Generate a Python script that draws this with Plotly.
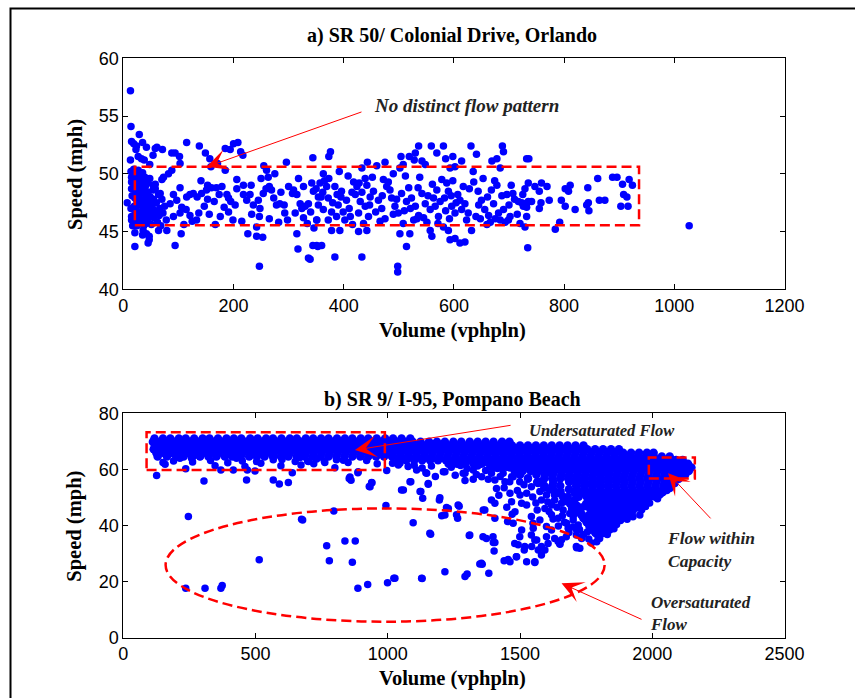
import plotly.graph_objects as go

# ---------------- Panel a: SR 50 / Colonial Drive (volume vphpln, speed mph) ----------------
a_points = [
    (13,57.2),(14,54.1),(15,52.8),(19,52.6),(24,52.4),(23,52.1),(29,53.4),(35,52.7),(42,52.3),(27,51.5),
    (33,51.3),(38,51.2),(13,51.2),(48,50.8),(58,52.2),(61,52.3),(71,52.1),(54,51.6),(88,51.8),(94,51.8),
    (102,51.5),(103,50.9),(115,52.7),(138,52.4),(149,51.8),(157,51.3),(159,50.6),(185,52.2),(194,52.1),
    (200,52.6),(208,52.7),(213,51.9),(217,51.6),(185,50.3),(171,50.9),
    (141,49.4),(153,49.0),(160,48.8),(206,49.5),(218,49.0),(232,49.0),(255,50.7),(260,50.3),(275,50.0),
    (250,49.6),(263,49.7),(296,51.0),(344,51.4),(342,49.2),
    (21,44.9),(21,43.7),(35,44.7),(36,45.1),(47,44.6),(45,44.0),(47,44.3),(94,43.8),(105,44.8),(133,46.0),
    (167,45.6),(226,44.8),(242,45.4),(242,44.6),(253,44.5),(247,42.0),(315,44.8),(317,43.5),(336,42.7),
    (339,42.6),(344,43.8),(351,43.8),(64,45.1),(79,45.1),(42,44.8),
    (7,47.5),(15,49.7),(15,48.7),(15,46.3),(54,49.0),(58,48.7),(67,48.3),(70,49.5),(73,49.7),(82,50.0),
    (88,50.3),(103,48.8),(91,48.2),(97,47.7),(85,47.4),(106,47.1),(115,48.0),(121,48.2),(127,48.3),
    (114,46.9),(121,46.4),(103,46.6),(91,46.3),(134,48.0),(142,48.3),(151,48.6),(153,47.8),(156,46.5),
    (169,48.8),(174,48.2),(179,48.9),(188,48.2),(191,47.9),(195,47.6),(203,47.3),(191,46.7),(176,46.3),
    (206,48.7),(218,48.2),(224,47.7),(230,48.2),(236,47.3),(245,47.7),(248,47.0),(247,46.3),(254,48.3),
    (259,48.7),(265,48.9),(269,48.6),(273,47.9),(278,47.3),(284,47.4),(292,47.3),(293,46.6),(265,46.1),
    (300,48.9),(309,48.6),(315,48.2),(307,48.3),(321,47.4),(324,47.0),(330,47.2),(336,47.4),(340,46.7),
    (334,45.7),(346,45.3),(351,46.0),(345,48.5),(354,48.0),
    (14,50.2),(15,49.3),(16,48.1),(14,47.0),(15,46.0),(17,45.5),(19,50.4),(20,49.6),(19,48.8),(21,47.9),
    (20,47.2),(19,46.4),(21,45.7),(23,50.0),(24,49.2),(23,48.4),(25,47.6),(24,46.8),(23,46.1),(25,45.5),
    (27,50.3),(28,49.5),(27,48.7),(29,47.9),(28,47.3),(27,46.5),(29,45.8),(31,49.9),(32,49.0),(31,48.3),
    (33,47.5),(32,46.7),(31,46.0),(35,50.1),(36,49.3),(35,48.5),(37,47.7),(36,46.9),(35,46.2),(37,45.5),
    (39,49.7),(40,48.9),(41,48.0),(40,47.2),(39,46.4),(41,45.7),(44,49.2),(45,48.4),(44,47.6),(46,46.8),
    (45,46.0),(48,49.6),(49,48.0),(50,47.3),(49,46.5),(51,45.6),(54,48.6),(55,47.8),(53,47.0),(56,46.2),
    (58,49.1),(60,47.5),(59,46.7),(62,45.8),(64,48.2),(66,47.0),(65,46.4),(70,47.8),(72,46.6),(68,45.5),
    (75,47.2),(78,46.0),
    (376,51.9),(373,51.5),(536,52.4),(559,52.4),(581,52.4),(631,52.4),(688,52.4),(530,51.8),(519,51.5),
    (504,51.5),(569,51.8),(585,51.3),(598,51.5),(641,51.7),(678,51.3),(669,51.1),(690,51.9),(614,51.1),
    (602,50.6),(593,50.5),(528,51.2),(542,51.1),(548,50.8),(443,51.0),(460,50.7),(475,51.0),(433,50.5),
    (392,50.2),(363,50.0),(373,49.6),(490,50.0),(502,50.5),(508,50.8),(635,50.2),(684,50.5),
    (357,49.2),(369,48.9),(359,48.0),(372,47.9),(354,47.3),(363,46.9),(351,46.0),(372,46.0),
    (384,48.9),(396,48.5),(405,47.7),(390,47.3),(399,46.7),(387,46.3),(402,46.0),(393,45.1),(378,45.1),
    (408,49.8),(418,49.3),(424,48.9),(439,49.6),(442,49.0),(421,48.2),(430,47.6),(439,47.2),(427,46.6),
    (445,46.3),(436,45.7),(442,45.1),(427,45.0),
    (454,48.5),(463,47.7),(469,47.0),(475,46.1),(481,49.3),(487,47.9),(493,47.2),(499,46.6),(502,44.8),
    (514,43.7),(520,44.8),(498,42.0),(498,41.5),
    (505,48.3),(514,47.6),(523,47.9),(530,47.2),(536,46.4),(527,46.0),(542,48.3),(548,47.4),(557,46.9),
    (563,47.9),(569,48.6),(572,46.3),(578,49.5),(587,49.2),(590,48.5),(581,45.4),(590,45.1),(560,44.6),
    (557,45.1),(596,47.2),(602,46.6),(611,47.7),(614,46.9),(623,46.0),(632,45.1),(593,44.3),(602,44.4),
    (611,44.0),(620,44.1),(644,48.5),(650,47.7),(656,46.9),(663,46.4),(672,47.4),(678,49.0),(681,46.6),
    (690,46.9),(696,48.2),(699,46.0),(684,46.0),(660,45.6),(384,42.8),(433,42.8),(360,43.8),(353,43.7),
    (380,47.5),(395,48.0),(410,47.0),(415,48.4),(433,48.4),(447,47.3),(458,46.7),(470,48.1),(478,48.9),
    (490,46.5),(510,46.8),(518,48.8),(535,48.8),(545,46.2),(553,48.1),(566,47.2),(575,47.6),(585,46.8),
    (595,48.1),(607,48.2),(620,47.4),(628,48.7),(640,46.3),(648,46.1),(668,48.6),(675,46.1),(700,47.3),
    (710,47.8),(362,48.4),(350,48.7),
    (318,49.6),(327,46.2),(365,49.4),(378,46.7),(388,48.2),(412,46.3),(416,45.6),(428,49.2),(448,48.0),
    (452,49.7),(466,45.9),(472,49.5),(484,48.6),(496,47.8),(508,45.7),(512,49.8),(521,47.0),(533,46.1),
    (538,49.7),(551,45.8),(561,49.1),(571,45.7),(583,47.9),(592,46.1),(598,49.4),(604,47.5),(617,48.9),
    (626,46.6),(636,49.3),(645,47.3),(653,49.6),(661,48.0),(666,45.8),(674,49.4),(687,48.1),(693,45.8),
    (704,49.0),(715,46.5),(286,48.4),(298,46.0),(282,45.8),(312,46.6),(327,48.9),(233,46.5),(215,45.9),
    (199,46.0),(183,47.1),(165,47.6),(147,47.2),(137,46.6),(125,45.9),(110,45.6),
    (732,51.3),(736,51.3),(707,48.3),(725,48.2),(729,48.7),(735,49.2),(747,48.9),(755,48.5),(759,49.2),
    (769,48.9),(717,47.6),(723,47.5),(729,47.4),(735,47.6),(741,47.6),(732,47.1),(726,47.2),(758,47.5),
    (755,47.0),(773,47.7),(795,47.7),(802,47.2),(820,46.9),(802,48.7),(808,48.5),(811,49.0),(843,48.8),
    (861,49.6),(841,47.3),(844,47.5),(845,46.8),(864,47.7),(874,47.7),(888,49.7),(896,49.7),(906,49.1),
    (918,49.5),(924,49.0),(908,48.2),(914,48.0),(903,47.2),(916,47.2),(732,46.3),(702,46.3),(720,45.7),
    (729,45.4),(792,45.8),(784,45.2),(734,43.6),(1027,45.5),
]
a_volume = [p[0] for p in a_points]
a_speed = [p[1] for p in a_points]

# ---------------- Panel b: SR 9 / I-95 (scattered points) ----------------
b_points = [
    (126,57.8),(158,61.8),(236,60.2),(305,55.9),(246,43.2),(236,17.6),(309,17.6),(369,17.6),(374,18.6),
    (514,27.8),(678,42.0),(796,45.2),(769,32.8),(779,27.4),(838,34.5),(877,34.5),(866,26.9),(887,17.6),
    (924,19.0),(999,19.6),(1023,21.2),(993,47.1),(347,61.3),(369,59.8),(416,59.8),(460,61.0),(469,59.8),
    (498,59.4),(466,56.2),(567,56.2),(590,54.8),(624,55.3),(639,58.8),(596,61.3),(672,61.6),(697,63.0),
    (762,62.5),(800,60.6),(857,57.3),(861,56.1),(887,58.8),(930,53.9),(940,55.2),(996,59.6),(1018,62.2),
    (428,64.0),(504,62.8),(567,63.4),(668,64.2),(731,63.7),(806,63.4),(258,64.0),(290,64.6),(214,64.0),
    (150,62.5),(190,63.0),(262,62.6),(330,63.2),(395,62.4),(450,63.0),(520,62.2),(600,63.5),(650,62.8),
    (720,62.0),(760,63.0),(850,62.5),(920,63.2),(960,62.0),
    (700,62.8),(832,63.3),(854,56.8),(888,59.2),(933,53.8),(939,55.3),(1046,62.2),(1059,52.7),(1084,55.6),
    (1077,61.0),(1109,59.8),(1122,52.1),(1132,49.7),(1144,58.8),(1153,55.0),(1195,49.1),(1210,59.2),
    (1229,46.1),(1204,43.5),(1216,43.7),(1270,46.9),(1264,42.6),(1292,56.0),(1323,56.5),(1285,58.6),
    (1323,59.8),(674,42.2),(1096,41.0),(1162,36.9),(1308,36.4),(1130,21.1),(1216,23.5),(1292,21.8),
    (1300,22.7),(1348,26.3),
    (1052,52.7),(1087,55.6),(1153,54.7),(1125,52.1),(1197,49.9),(1222,46.4),(1266,47.3),(1260,43.8),
    (1159,37.2),(1027,21.2),(1128,21.2),(1310,36.6),(1357,26.2),(1382,23.0),(1361,45.5),(1373,35.4),
    (1399,33.9),(1402,30.9),(1392,49.1),(1405,42.6),(1440,27.4),(1462,27.1),(1487,28.9),(1493,33.1),
    (1516,31.3),(1525,27.1),(1556,27.1),(1544,32.5),(1563,34.8),(1569,31.3),(1581,29.5),(1594,31.3),
    (1550,39.0),(1506,38.4),(1474,40.8),(1481,44.9),(1468,48.5),(1506,47.9),(1525,47.3),(1405,47.9),
    (1453,41.4),(1644,34.3),(1657,34.9),(1651,33.3),(1714,32.1),(1682,39.0),(1714,38.4),(1733,35.4),
    (1619,38.4),(1600,36.0),(1292,58.6),(1355,57.4),(1392,58.6),(1405,56.2),(1443,55.6),(1468,57.4),
    (1500,50.9),(1462,51.5),(1525,51.5),(1581,49.1),(1600,50.9),(1619,47.3),(1619,43.8),(1644,42.6),
    (1663,45.5),(1676,40.8),(1701,43.2),(1720,40.2),(1714,47.3),(1682,50.3),(1216,59.2),(1147,58.6),
    (1040,61.6),
    (1675,36.0),(1713,36.6),(1726,31.9),(1713,32.5),(1801,35.4),(1814,37.2),(1839,38.4),(1846,42.0),
    (1808,39.6),(1776,38.4),(1764,42.0),(1738,42.6),(1701,42.0),(1688,44.3),(1713,46.7),(1745,46.7),
    (1871,42.0),(1890,44.3),(1915,45.5),(1940,47.9),(1953,43.7),(1927,43.1),(1978,49.1),(2009,50.3),
    (2028,50.9),(2066,53.2),(2072,55.6),(2091,58.0),(2110,59.2),(1543,43.2),(1549,40.8),(1575,42.0),
    (1600,39.6),(1594,46.1),(1631,49.1),(1657,47.9),(1612,52.7),(1575,52.1),(1568,55.0),(1543,53.8),
    (1499,55.6),(1474,57.4),(1411,53.2),(1367,45.5),(1360,36.0),(1398,36.0),(1405,33.9),(1480,33.6),
    (1499,36.0),(1518,32.5),(1543,36.6),(1556,34.8),(1581,32.5),(1606,33.6),(1650,33.6),(1631,35.4),
    (1486,28.9),(1455,27.9),(1556,26.8),(1354,26.5),(1360,62.2),(1386,61.0),(1436,58.6),(1461,55.6),
    (1100,61.5),(1130,60.5),(1165,61.2),(1180,57.5),(1240,60.8),(1255,57.9),(1275,61.4),(1300,60.3),
    (1335,58.2),(1340,61.2),(1370,59.6),(1380,56.5),(1415,60.3),(1425,57.5),(1450,60.8),(1440,53.5),
    (1420,50.8),(1450,46.5),(1470,44.0),(1490,52.5),
    (1515,54.5),(1530,56.6),(1548,50.2),(1560,48.0),(1565,45.5),(1580,55.8),(1590,53.3),(1605,48.4),
    (1610,45.0),(1625,42.3),(1630,51.0),(1640,46.5),(1645,39.8),(1655,52.1),(1660,43.5),(1668,41.2),
    (1672,48.6),(1685,37.5),(1695,46.0),(1700,39.5),(1710,44.5),(1725,38.6),(1735,44.0),(1740,36.8),
    (1755,37.8),(1760,35.2),(1770,33.8),(1790,34.2),(1795,36.0),(1830,36.8),(1855,38.8),(1865,40.4),
    (1880,41.8),(1905,42.2),(1920,44.0),(1960,45.6),(1975,46.8),(1990,48.0),(2020,49.5),(2040,51.8),
    (2055,52.5),(2085,55.0),(2100,56.5),(2120,58.0),
]
b_volume = [p[0] for p in b_points]
b_speed = [p[1] for p in b_points]

# Panel b dense band, read row by row (speed of row, volumes along it)
band_speeds = [71.0, 69.8, 68.5, 67.2, 65.9, 64.6, 63.3, 62.0, 60.7, 59.4, 58.1, 56.8, 55.5, 54.2,
               52.9, 51.6, 50.3, 49.0, 47.7, 46.4, 45.1, 43.8, 42.5, 41.2, 39.9, 38.6, 37.3]
band_volume_rows = [
    [118,150,178,210,236,268,300,326,358,390,418,446,480,508,540,566,598,630,656,690,718,748,776,808,838,
     866,898,926,958,990,1020,1052,1085],
    [112,140,165,195,222,252,283,312,340,372,402,432,462,494,524,552,582,612,642,672,702,734,762,792,822,
     852,882,912,942,972,1002,1034,1064,1094,1124,1156,1186,1216,1248,1278,1310,1340,1370,1400,1432,1460],
    [120,152,180,208,240,270,298,330,360,388,420,450,478,510,540,568,600,628,660,690,720,750,780,810,840,
     870,900,930,960,990,1020,1050,1080,1110,1140,1170,1200,1230,1260,1290,1320,1350,1380,1410,1440,1470,
     1500,1530,1560,1590,1620,1650,1680,1710,1740],
    [115,140,168,196,226,256,286,314,344,374,404,434,464,494,524,554,584,614,644,674,704,734,764,794,824,
     854,884,914,944,974,1004,1034,1064,1094,1124,1154,1184,1214,1244,1274,1304,1334,1364,1394,1424,1454,
     1484,1514,1544,1574,1604,1634,1664,1694,1724,1754,1784,1814,1844,1874],
    [125,154,182,212,242,272,300,330,360,390,420,450,480,510,540,570,600,630,660,690,720,750,780,810,840,
     870,900,930,960,990,1020,1050,1080,1110,1140,1170,1200,1230,1260,1290,1320,1350,1380,1410,1440,1470,
     1500,1530,1560,1590,1620,1650,1680,1710,1740,1770,1800,1830,1860,1890,1920,1950,1980,2005],
    [130,165,200,228,262,290,322,352,384,412,444,476,505,534,566,596,624,656,686,716,746,776,806,836,866,
     896,926,956,986,1016,1046,1076,1106,1136,1166,1196,1226,1256,1286,1316,1346,1376,1406,1436,1466,1496,
     1526,1556,1586,1616,1646,1676,1706,1736,1766,1796,1826,1856,1886,1916,1946,1976,2006,2036,2066],
    [1040,1070,1100,1130,1160,1190,1220,1250,1280,1310,1340,1370,1400,1430,1460,1490,1520,1550,1580,1610,
     1640,1670,1700,1730,1760,1790,1820,1850,1880,1910,1940,1970,2000,2030,2060,2090,2115],
    [1230,1262,1292,1324,1354,1386,1416,1448,1478,1510,1540,1570,1600,1630,1660,1690,1720,1750,1780,1810,
     1840,1870,1900,1930,1960,1990,2020,2050,2080,2110,2135],
    [1400,1432,1462,1494,1524,1555,1585,1616,1646,1676,1706,1736,1766,1796,1826,1856,1886,1916,1946,1976,
     2006,2036,2066,2096,2126,2148],
    [1480,1510,1540,1570,1600,1630,1660,1690,1720,1750,1780,1810,1840,1870,1900,1930,1960,1990,2020,2050,
     2080,2110,2138],
    [1500,1562,1594,1624,1656,1686,1716,1746,1776,1806,1836,1866,1896,1926,1956,1986,2016,2046,2076,
     2106,2124],
    [1530,1592,1622,1652,1682,1712,1742,1772,1802,1832,1862,1892,1922,1952,1982,2012,2042,2072,2098],
    [1565,1626,1686,1716,1746,1776,1806,1836,1866,1896,1926,1956,1986,2016,2046,2076],
    [1592,1622,1652,1712,1742,1772,1802,1832,1862,1892,1922,1952,1982,2012,2042,2068],
    [1625,1685,1715,1745,1775,1805,1835,1865,1895,1925,1955,1985,2015,2045],
    [1645,1706,1736,1766,1796,1826,1856,1886,1916,1946,1976,2006,2034],
    [1662,1722,1752,1782,1812,1842,1872,1902,1932,1962,1992,2012],
    [1675,1705,1765,1795,1825,1855,1885,1915,1945,1975],
    [1690,1750,1780,1810,1840,1870,1900,1930,1960],
    [1702,1732,1762,1792,1822,1852,1882,1912,1942],
    [1715,1775,1805,1835,1865,1895,1925],
    [1732,1762,1792,1822,1852,1882,1900],
    [1742,1772,1802,1832,1862,1880],
    [1752,1782,1812,1842,1860],
    [1762,1792,1822,1848],
    [1772,1802,1832],
    [1785,1815],
]

x_ticks_a = [0, 200, 400, 600, 800, 1000, 1200]
y_ticks_a = [40, 45, 50, 55, 60]
x_ticks_b = [0, 500, 1000, 1500, 2000, 2500]
y_ticks_b = [0, 20, 40, 60, 80]

band_x, band_y = [], []
for spd, vols in zip(band_speeds, band_volume_rows):
    band_x.extend(vols)
    band_y.extend([spd] * len(vols))

BLUE = "#0000ff"
RED = "#ff0000"
SERIF = "Liberation Serif, Times New Roman, serif"
SANS = "Liberation Sans, Arial, Helvetica, sans-serif"

fig = go.Figure()
fig.add_trace(go.Scatter(x=a_volume, y=a_speed, mode="markers", xaxis="x", yaxis="y",
                         marker=dict(color=BLUE, size=7.5, line=dict(width=0)), showlegend=False))
fig.add_trace(go.Scatter(x=band_x, y=band_y, mode="markers", xaxis="x2", yaxis="y2",
                         marker=dict(color=BLUE, size=8.6, line=dict(width=0)), showlegend=False))
fig.add_trace(go.Scatter(x=b_volume, y=b_speed, mode="markers", xaxis="x2", yaxis="y2",
                         marker=dict(color=BLUE, size=7.5, line=dict(width=0)), showlegend=False))

W, H = 855, 698
xdom = [123.3 / W, 784.5 / W]
ax_common = dict(ticks="inside", ticklen=5, tickcolor="black", showline=True, mirror="ticks",
                 linecolor="black", linewidth=1, showgrid=False, zeroline=False, automargin=False,
                 tickfont=dict(family=SANS, size=18, color="black"))

fig.update_layout(
    template="none",
    width=W, height=H, margin=dict(l=0, r=0, t=0, b=0, pad=0, autoexpand=False),
    paper_bgcolor="white", plot_bgcolor="white", showlegend=False,
    xaxis=dict(domain=xdom, range=[0, 1200], tickvals=x_ticks_a, anchor="y", **ax_common),
    yaxis=dict(domain=[1 - 289.3 / H, 1 - 58.3 / H], range=[40, 60], tickvals=y_ticks_a, anchor="x", **ax_common),
    xaxis2=dict(domain=xdom, range=[0, 2500], tickvals=x_ticks_b, anchor="y2", **ax_common),
    yaxis2=dict(domain=[1 - 637.7 / H, 1 - 413.3 / H], range=[0, 80], tickvals=y_ticks_b, anchor="x2", **ax_common),
)

dash_line = dict(color=RED, width=2.5, dash="10px,5px")
shapes = [
    dict(type="rect", xref="x", yref="y", x0=21, x1=936, y0=45.55, y1=50.6, line=dash_line),
    dict(type="rect", xref="x2", yref="y2", x0=88, x1=989, y0=59.8, y1=73.2, line=dash_line),
    dict(type="rect", xref="x2", yref="y2", x0=1987, x1=2161, y0=56.8, y1=64.2, line=dash_line),
    dict(type="circle", xref="x2", yref="y2", x0=160, x1=1820, y0=5.7, y1=46.1, line=dash_line),
    dict(type="rect", xref="paper", yref="paper", x0=10.5 / W, x1=1.2, y0=-0.2, y1=1 - 8.5 / H,
         line=dict(color="black", width=2)),
]
fig.update_layout(shapes=shapes)

ann = []
def title(text, x, y, size):
    ann.append(dict(text="<b>%s</b>" % text, xref="paper", yref="paper", x=x / W, y=1 - y / H,
                    showarrow=False, xanchor="center", yanchor="middle",
                    font=dict(family=SERIF, size=size, color="black")))

title("a) SR 50/ Colonial Drive, Orlando", 452, 35.7, 20)
title("b) SR 9/ I-95, Pompano Beach", 452, 399, 20)
title("Volume (vphpln)", 452.5, 330.7, 20.5)
title("Volume (vphpln)", 452.5, 678.3, 20.5)
for yc in (175, 526.7):
    ann.append(dict(text="<b>Speed (mph)</b>", xref="paper", yref="paper", x=75 / W, y=1 - yc / H,
                    showarrow=False, textangle=-90, xanchor="center", yanchor="middle",
                    font=dict(family=SERIF, size=20.5, color="black")))

def label(text, xr, yr, x, y, size):
    ann.append(dict(text="<b><i>%s</i></b>" % text, xref=xr, yref=yr, x=x, y=y, showarrow=False,
                    xanchor="left", yanchor="middle", align="left",
                    font=dict(family=SERIF, size=size, color="#222222")))

def arrow(xr, yr, hx, hy, tx, ty):
    ann.append(dict(text="", xref=xr, yref=yr, x=hx, y=hy, axref=xr, ayref=yr, ax=tx, ay=ty,
                    showarrow=True, arrowhead=3, arrowsize=3.6, arrowwidth=1, arrowcolor=RED,
                    standoff=0))

label("No distinct flow pattern", "x", "y", 451, 55.87, 19)
arrow("x", "y", 151.4, 50.6, 435, 55.4)
label("Undersaturated Flow", "x2", "y2", 1528, 73.8, 16.5)
arrow("x2", "y2", 876, 66.9, 1470, 75.8)
label("Flow within<br>Capacity", "x2", "y2", 2050, 31.3, 17.5)
arrow("x2", "y2", 2060, 58.6, 2226, 42.0)
label("Oversaturated<br>Flow", "x2", "y2", 1982, 8.6, 17)
arrow("x2", "y2", 1657, 19.4, 1965, 6.3)

fig.update_layout(annotations=ann)
fig.write_html("out.html")
